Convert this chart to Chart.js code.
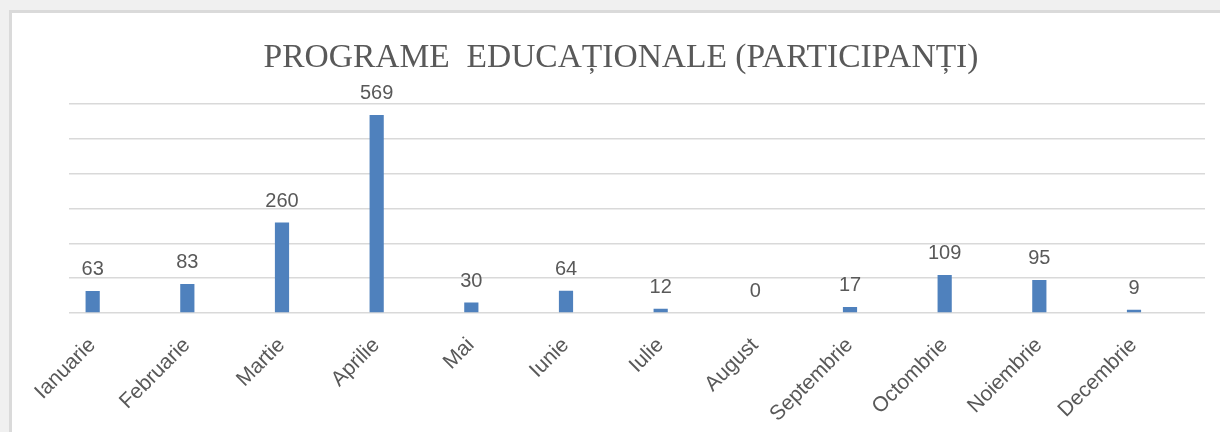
<!DOCTYPE html>
<html>
<head>
<meta charset="utf-8">
<script src="https://cdn.jsdelivr.net/npm/chart.js@4/dist/chart.umd.min.js"></script>
<style>
  html, body { margin: 0; padding: 0; background: #f0f0f0; overflow: hidden; }
  #panel { position: absolute; left: 9px; top: 10px; width: 1400px; height: 600px; background: #ffffff;
           border-left: 3px solid #dadada; border-top: 3px solid #dadada; }
  #wrap { position: absolute; left: 0; top: 0; width: 1220px; height: 432px; }
</style>
</head>
<body>
<div id="panel"></div>
<div id="wrap"><canvas id="c" width="1220" height="432"></canvas></div>
<script>
const titleText = "PROGRAME  EDUCAȚIONALE (PARTICIPANȚI)";
const categories = ["Ianuarie", "Februarie", "Martie", "Aprilie", "Mai", "Iunie", "Iulie", "August", "Septembrie", "Octombrie", "Noiembrie", "Decembrie"];
const participants = [63, 83, 260, 569, 30, 64, 12, 0, 17, 109, 95, 9];
const emptySeries = [null, null, null, null, null, null, null, null, null, null, null, null];

const valueLabels = {
  id: 'valueLabels',
  afterDatasetsDraw(chart) {
    const ctx = chart.ctx;
    const meta = chart.getDatasetMeta(0);
    ctx.save();
    ctx.font = '20px "Liberation Sans", Arial, sans-serif';
    ctx.fillStyle = '#595959';
    ctx.textAlign = 'center';
    ctx.textBaseline = 'alphabetic';
    meta.data.forEach((bar, i) => {
      ctx.fillText(String(participants[i]), bar.x, bar.y - 16);
    });
    ctx.restore();
  }
};

new Chart(document.getElementById('c'), {
  type: 'bar',
  data: {
    labels: categories,
    datasets: [
      { label: 'Participanți', data: participants, backgroundColor: '#4f81bd', categoryPercentage: 1.0, barPercentage: 0.3 },
      { label: '', data: emptySeries, backgroundColor: '#4f81bd', categoryPercentage: 1.0, barPercentage: 0.3 }
    ]
  },
  options: {
    responsive: false,
    animation: false,
    layout: { padding: { left: 37, right: 15, top: 32, bottom: 0 } },
    plugins: {
      legend: { display: false },
      tooltip: { enabled: false },
      title: {
        display: true,
        text: titleText,
        color: '#595959',
        font: { family: '"Liberation Serif", "Times New Roman", serif', size: 33.5, weight: 'normal' },
        padding: { top: 6, bottom: 26 }
      }
    },
    scales: {
      x: {
        grid: { display: false },
        border: { display: false },
        ticks: {
          color: '#595959',
          font: { family: '"Liberation Sans", Arial, sans-serif', size: 21 },
          maxRotation: 45, minRotation: 45,
          labelOffset: -24,
          padding: 12,
          autoSkip: false
        },
        afterFit(axis) { axis.height = 119; }
      },
      y: {
        min: 0, max: 600,
        ticks: { display: false, stepSize: 100 },
        grid: { color: '#d9d9d9', lineWidth: 1.5, drawTicks: false },
        border: { display: false },
        afterFit(axis) { axis.width = 32; }
      }
    }
  },
  plugins: [valueLabels]
});
</script>
</body>
</html>
